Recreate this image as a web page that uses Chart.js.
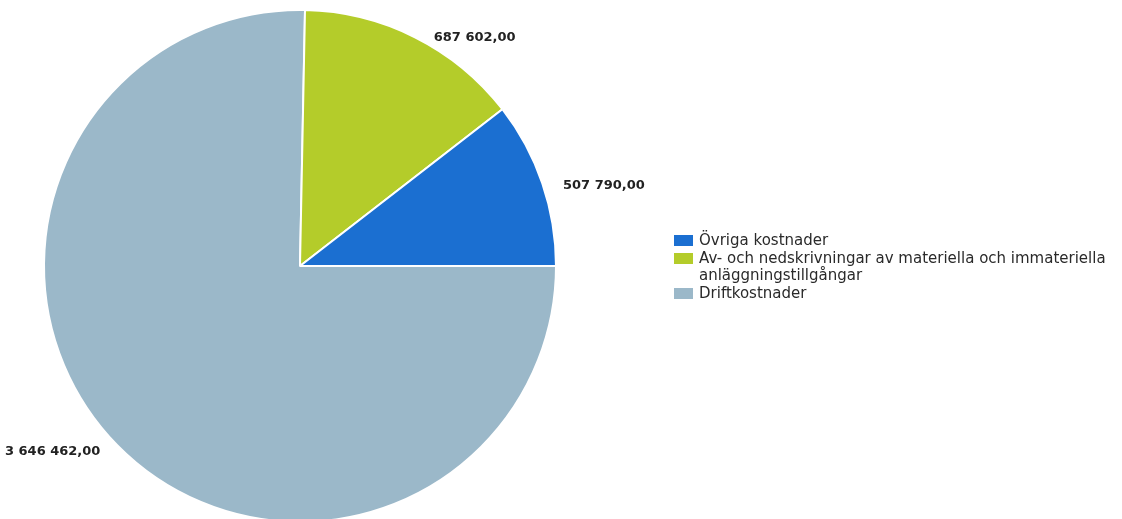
<!DOCTYPE html>
<html>
<head>
<meta charset="utf-8">
<script src="https://cdn.jsdelivr.net/npm/chart.js@4"></script>
<style>
  body { margin: 0; background: #fff; }
  #wrap { position: relative; width: 1122px; height: 519px; overflow: hidden; }
  #legend { position: absolute; left: 674px; top: 232px; width: 445px;
            font-family: "DejaVu Sans", sans-serif; font-size: 15px; color: #2a2a2a; line-height: 17.5px; }
  .item { position: relative; padding-left: 25px; }
  .box { position: absolute; left: 0; top: 3px; width: 19px; height: 11px; }
</style>
</head>
<body>
<div id="wrap">
  <canvas id="pie" width="1122" height="540"></canvas>
  <div id="legend"></div>
</div>
<script>
// legend order (top to bottom)
var categories = ['Övriga kostnader', 'Av- och nedskrivningar av materiella och immateriella anläggningstillgångar', 'Driftkostnader'];
var values = [507790, 687602, 3646462];
var colors = ['#1b6fd1', '#b4cc2a', '#9bb8c9'];

function formatValue(v) {
    var s = Math.round(v).toString().replace(/\B(?=(\d{3})+(?!\d))/g, ' ');
    return s + ',00';
}

// labels drawn just outside each slice
const valueLabels = {
    id: 'valueLabels',
    afterDatasetsDraw(chart) {
        const ctx = chart.ctx;
        const meta = chart.getDatasetMeta(0);
        ctx.save();
        ctx.font = 'bold 13px "DejaVu Sans", sans-serif';
        ctx.fillStyle = '#222';
        ctx.textBaseline = 'middle';
        meta.data.forEach(function (arc, i) {
            const mid = (arc.startAngle + arc.endAngle) / 2;
            const r = arc.outerRadius + 4;
            let x = arc.x + Math.cos(mid) * r;
            const y = arc.y + Math.sin(mid) * r + 4;
            if (Math.cos(mid) >= 0) {
                ctx.textAlign = 'left';
                x += 17;
            } else {
                ctx.textAlign = 'right';
                x -= 14;
            }
            ctx.fillText(formatValue(chart.data.datasets[0].data[i]), x, y);
        });
        ctx.restore();
    }
};

// slices go counterclockwise from 3 o'clock in the picture, so feed them reversed
new Chart(document.getElementById('pie'), {
    type: 'pie',
    data: {
        labels: categories.slice().reverse(),
        datasets: [{
            data: values.slice().reverse(),
            backgroundColor: colors.slice().reverse(),
            borderColor: '#ffffff',
            borderWidth: 2
        }]
    },
    options: {
        responsive: false,
        animation: false,
        rotation: 90,
        layout: { padding: { left: 43, right: 565, top: 9, bottom: 17 } },
        plugins: {
            legend: { display: false },
            tooltip: { enabled: false }
        }
    },
    plugins: [valueLabels]
});

var legend = document.getElementById('legend');
categories.forEach(function (name, i) {
    var item = document.createElement('div');
    item.className = 'item';
    var box = document.createElement('span');
    box.className = 'box';
    box.style.background = colors[i];
    item.appendChild(box);
    item.appendChild(document.createTextNode(name));
    legend.appendChild(item);
});
</script>
</body>
</html>
